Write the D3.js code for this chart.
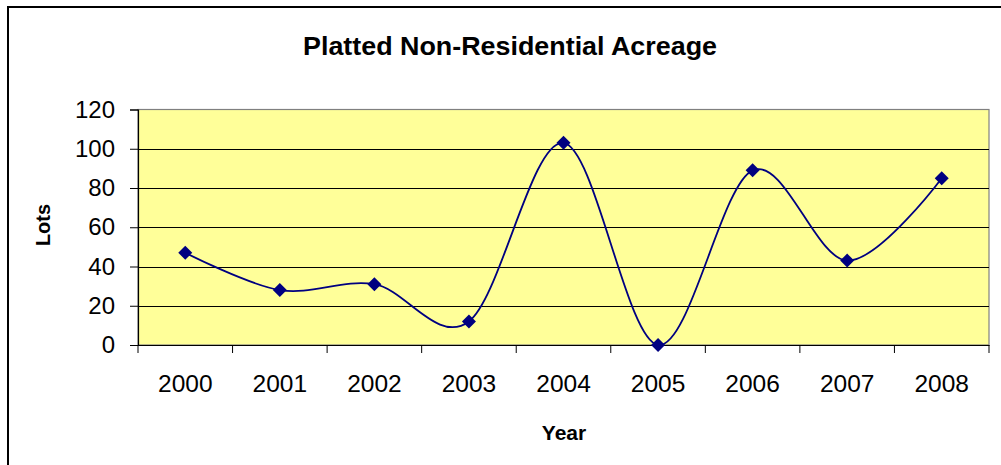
<!DOCTYPE html>
<html>
<head>
<meta charset="utf-8">
<script src="https://cdn.jsdelivr.net/npm/d3@7"></script>
<style>
  html, body { margin: 0; padding: 0; background: #fff; }
  svg { display: block; }
  text { font-family: "Liberation Sans", Arial, sans-serif; fill: #000; }
</style>
</head>
<body>
<svg id="chart" width="1001" height="465"></svg>
<script>
const title = "Platted Non-Residential Acreage";
const xTitle = "Year";
const yTitle = "Lots";
const years = ["2000", "2001", "2002", "2003", "2004", "2005", "2006", "2007", "2008"];
const lots = [47, 28, 31, 12, 103, 0, 89, 43, 85];
const yTicks = [0, 20, 40, 60, 80, 100, 120];

const svg = d3.select("#chart");
const plot = { left: 138, right: 989, top: 109.5, bottom: 345 };

// outer chart border
svg.append("rect")
  .attr("x", 8).attr("y", 7)
  .attr("width", 1200).attr("height", 800)
  .attr("fill", "#fff")
  .attr("stroke", "#000").attr("stroke-width", 2);

const x = d3.scaleBand().domain(years).range([plot.left, plot.right]).padding(0);
const y = d3.scaleLinear().domain([0, 120]).range([plot.bottom, plot.top]);

// plot area
svg.append("rect")
  .attr("x", plot.left).attr("y", plot.top)
  .attr("width", plot.right - plot.left).attr("height", plot.bottom - plot.top)
  .attr("fill", "#FFFF99")
  .attr("stroke", "#808080").attr("stroke-width", 1.2);

// gridlines
svg.append("g").selectAll("line")
  .data(yTicks.filter(d => d > 0 && d < 120))
  .join("line")
  .attr("x1", plot.left).attr("x2", plot.right)
  .attr("y1", d => Math.round(y(d)) + 0.5).attr("y2", d => Math.round(y(d)) + 0.5)
  .attr("stroke", "#000").attr("stroke-width", 1);

// y axis
const yAxis = svg.append("g")
  .attr("transform", `translate(${plot.left},0)`)
  .call(d3.axisLeft(y).tickValues(yTicks).tickSize(8).tickPadding(15));
yAxis.select(".domain").attr("stroke", "#000").attr("stroke-width", 1.2);
yAxis.selectAll(".tick line").attr("stroke", "#000");
yAxis.selectAll(".tick text")
  .style("font-family", "'Liberation Sans', Arial, sans-serif")
  .style("font-size", "24px").attr("fill", "#000");

// x axis
const xAxis = svg.append("g")
  .attr("transform", `translate(0,${plot.bottom})`)
  .call(d3.axisBottom(x).tickSize(0).tickPadding(30));
xAxis.select(".domain").attr("stroke", "#000").attr("stroke-width", 1.2);
xAxis.selectAll(".tick text")
  .style("font-family", "'Liberation Sans', Arial, sans-serif")
  .style("font-size", "24.5px").attr("fill", "#000");
// category boundary ticks
const bounds = years.map(d => x(d)).concat([x(years[years.length - 1]) + x.bandwidth()]);
svg.append("g").selectAll("line")
  .data(bounds)
  .join("line")
  .attr("x1", d => d).attr("x2", d => d)
  .attr("y1", plot.bottom).attr("y2", plot.bottom + 8)
  .attr("stroke", "#000").attr("stroke-width", 1);

// line
const line = d3.line()
  .x((d, i) => x(years[i]) + x.bandwidth() / 2)
  .y(d => y(d))
  .curve(d3.curveCardinal.tension(0));
svg.append("path")
  .datum(lots)
  .attr("d", line)
  .attr("fill", "none")
  .attr("stroke", "#000080")
  .attr("stroke-width", 1.8);

// markers
svg.append("g").selectAll("path")
  .data(lots)
  .join("path")
  .attr("transform", (d, i) => `translate(${x(years[i]) + x.bandwidth() / 2},${y(d)})`)
  .attr("d", "M0,-7L7,0L0,7L-7,0Z")
  .attr("fill", "#000080");

// titles
svg.append("text")
  .attr("x", 510).attr("y", 55)
  .attr("text-anchor", "middle")
  .attr("textLength", 414).attr("lengthAdjust", "spacingAndGlyphs")
  .style("font-size", "26.5px").style("font-weight", "bold")
  .text(title);

svg.append("text")
  .attr("x", 564).attr("y", 440)
  .attr("text-anchor", "middle")
  .style("font-size", "21px").style("font-weight", "bold")
  .text(xTitle);

svg.append("text")
  .attr("transform", "translate(50,225) rotate(-90)")
  .attr("text-anchor", "middle")
  .style("font-size", "20px").style("font-weight", "bold")
  .text(yTitle);
</script>
</body>
</html>
